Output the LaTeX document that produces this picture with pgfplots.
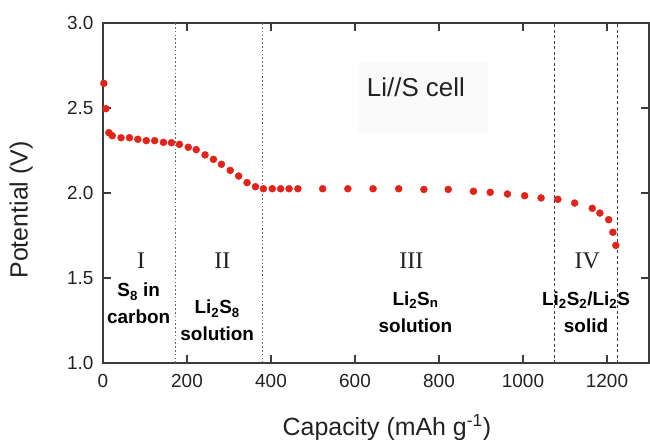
\documentclass[border=0pt]{standalone}
\usepackage{fontspec}
\setmainfont{Liberation Sans}
\newfontfamily\romanfont{Liberation Serif}
\usepackage{pgfplots}
\pgfplotsset{compat=1.18}
\definecolor{dotred}{HTML}{E2231A}
\definecolor{axgray}{HTML}{3C3C3C}
\definecolor{txtgray}{HTML}{222222}
\begin{document}
\begin{tikzpicture}
\path[use as bounding box] (-103bp,-77bp) rectangle (547bp,363bp);
\begin{axis}[
  at={(0,0)}, anchor=south west,
  scale only axis, width=546bp, height=340bp,
  xmin=0, xmax=1300, ymin=1, ymax=3,
  xtick={0,200,400,600,800,1000,1200},
  ytick={1,1.5,2,2.5,3},
  tick align=inside, major tick length=8bp,
  /pgf/number format/assume math mode=true,
  /pgf/number format/1000 sep={},
  yticklabel style={/pgf/number format/fixed, /pgf/number format/fixed zerofill, /pgf/number format/precision=1, xshift=-6bp},
  tick label style={font=\fontsize{19}{22}\selectfont, text=txtgray},
  xticklabel style={yshift=-8bp},
  xlabel={Capacity (mAh g\textsuperscript{-1})},
  ylabel={Potential (V)},
  xlabel style={at={(axis description cs:0.52,-0.19)}, anchor=center, font=\fontsize{25}{28}\selectfont, text=txtgray},
  ylabel style={at={(axis description cs:-0.15,0.45)}, anchor=center, rotate=0, font=\fontsize{25}{28}\selectfont, text=txtgray},
  axis line style={axgray, line width=1.3bp},
  every tick/.style={axgray, line width=1.1bp},
  clip=false,
]
% faint box behind the cell label
\fill[black!2] (axis cs:608,2.35) rectangle (axis cs:916,2.77);
\node[font=\fontsize{26}{30}\selectfont, text=txtgray] at (axis cs:745,2.62) {Li//S cell};

% region boundaries
\addplot[black!60, line width=1.1bp, dash pattern=on 1.6bp off 2.2bp] coordinates {(172,1) (172,3)};
\addplot[black!60, line width=1.1bp, dash pattern=on 1.6bp off 2.2bp] coordinates {(379,1) (379,3)};
\addplot[black!75, line width=0.9bp, dash pattern=on 3bp off 2.5bp] coordinates {(1076,1) (1076,3)};
\addplot[black!75, line width=0.9bp, dash pattern=on 3bp off 2.5bp] coordinates {(1224,1) (1224,3)};

% discharge curve
\addplot[only marks, mark=*, mark size=3.5bp, color=dotred, mark options={draw=dotred, fill=dotred}] coordinates {
(2,2.645) (7,2.496) (14,2.355) (22,2.337) (43,2.325) (63,2.325) (83,2.316)
(103,2.308) (123,2.308) (144,2.298) (163,2.296) (182,2.286) (203,2.269)
(222,2.255) (243,2.224) (263,2.198) (282,2.169) (303,2.133) (323,2.100)
(343,2.061) (363,2.037) (382,2.025) (403,2.025) (423,2.025) (443,2.025)
(464,2.025) (523,2.025) (583,2.025) (643,2.025) (704,2.025) (764,2.021)
(822,2.021) (882,2.010) (922,2.004) (963,1.994) (1004,1.984) (1043,1.971)
(1083,1.963) (1123,1.941) (1165,1.910) (1183,1.882) (1204,1.843)
(1214,1.769) (1221,1.692)
};

% region labels
\node[font=\romanfont\fontsize{24}{28}\selectfont, text=txtgray] at (axis cs:91,1.60) {I};
\node[font=\romanfont\fontsize{24}{28}\selectfont, text=txtgray] at (axis cs:284,1.60) {II};
\node[font=\romanfont\fontsize{24}{28}\selectfont, text=txtgray] at (axis cs:734,1.60) {III};
\node[font=\romanfont\fontsize{24}{28}\selectfont, text=txtgray] at (axis cs:1153,1.60) {IV};

\node[font=\fontsize{19}{27}\selectfont\bfseries, align=center, text=black] at (axis cs:85,1.35) {S\textsubscript{8} in\\carbon};
\node[font=\fontsize{19}{27}\selectfont\bfseries, align=center, text=black] at (axis cs:272,1.25) {Li\textsubscript{2}S\textsubscript{8}\\solution};
\node[font=\fontsize{19}{27}\selectfont\bfseries, align=center, text=black] at (axis cs:744,1.30) {Li\textsubscript{2}S\textsubscript{n}\\solution};
\node[font=\fontsize{19}{27}\selectfont\bfseries, align=center, text=black] at (axis cs:1150,1.30) {Li\textsubscript{2}S\textsubscript{2}/Li\textsubscript{2}S\\solid};
\end{axis}
\end{tikzpicture}
\end{document}
